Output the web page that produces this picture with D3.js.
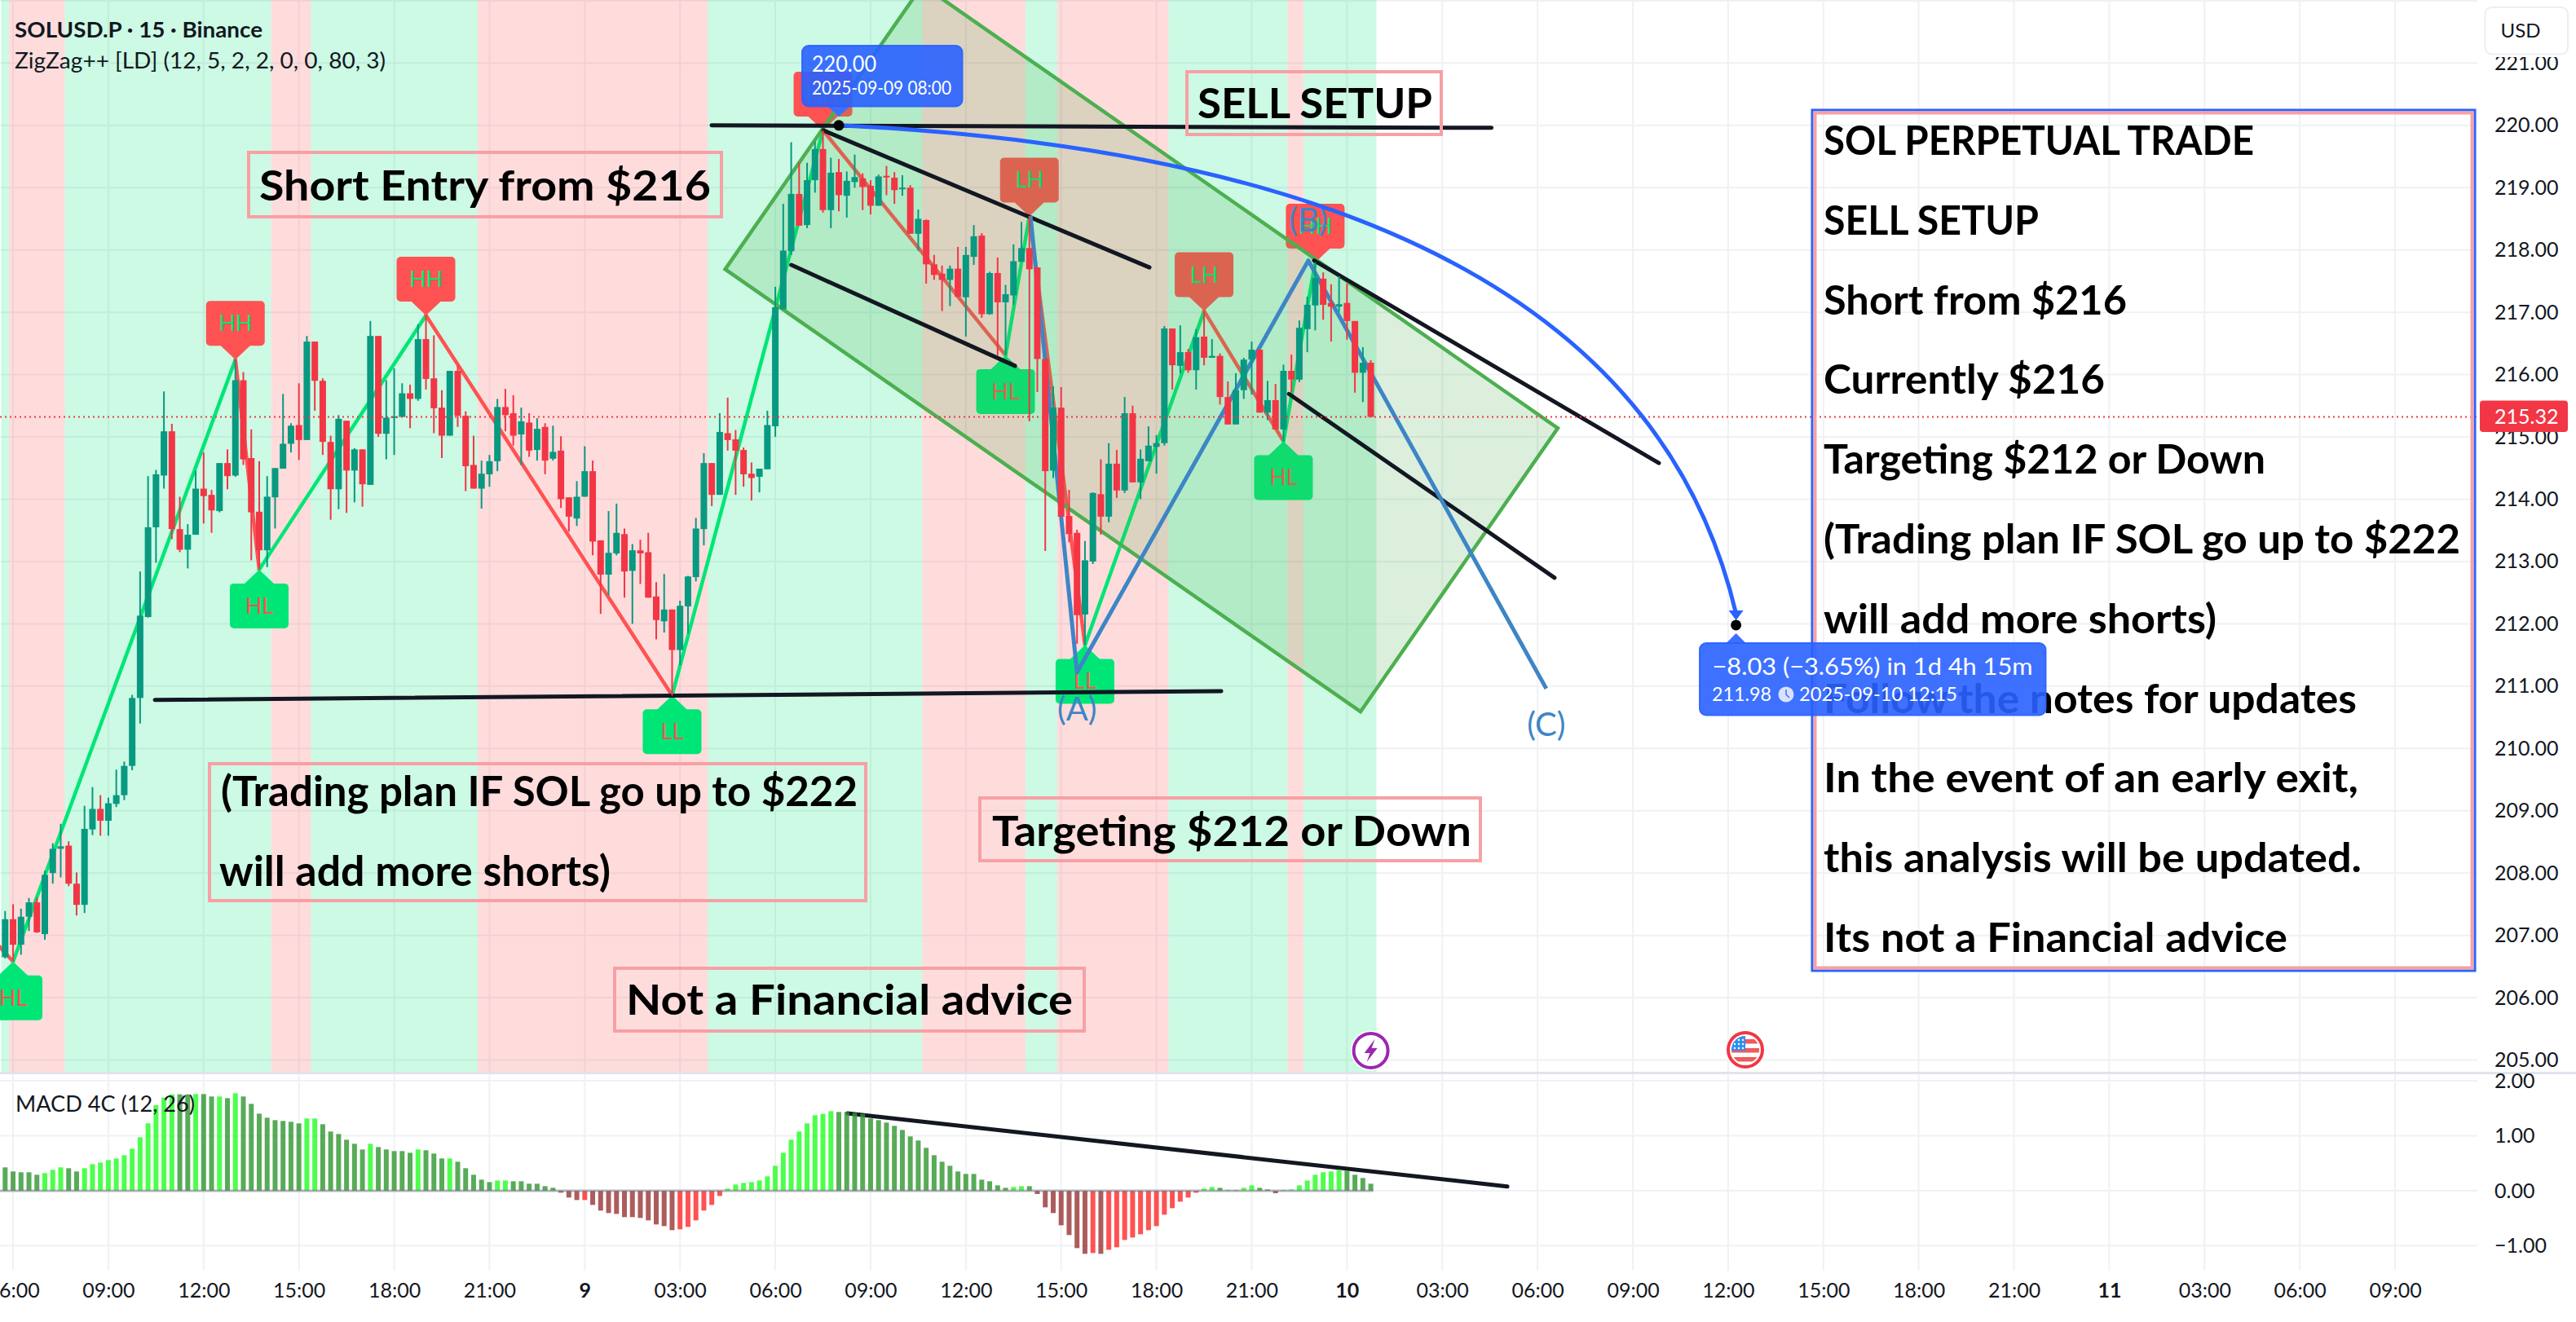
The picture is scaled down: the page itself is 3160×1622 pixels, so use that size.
<!DOCTYPE html>
<html lang="en">
<head>
<meta charset="utf-8">
<title>SOLUSD.P 15m</title>
<script src="https://cdn.jsdelivr.net/npm/d3@7"></script>
<style>
  html, body { margin: 0; padding: 0; background: #fff; }
  svg { display: block; }
  text { font-family: "Lato", "Open Sans", sans-serif; }
</style>
</head>
<body>
<div id="chart"></div>
<script>
// 15-minute SOLUSD.P bars; bar 0 is 05:45 on 8 Sep 2025.
const barOpen = [206.65,207.26,206.85,207.30,207.53,207.02,208.00,208.39,208.44,207.83,207.49,208.70,209.03,208.84,209.11,209.25,209.72,210.81,212.11,213.55,214.38,215.09,213.52,213.19,213.43,214.17,214.07,213.81,214.58,214.38,215.91,214.66,213.80,213.18,214.03,214.49,214.89,215.19,214.95,216.53,215.90,214.92,214.16,215.26,214.46,214.80,214.23,216.62,215.05,215.31,215.32,215.70,215.61,216.57,215.94,215.47,215.02,216.06,215.34,214.55,214.17,214.40,214.61,215.48,215.38,215.04,215.23,214.79,215.16,214.65,214.78,214.03,213.69,214.04,214.45,213.34,212.79,213.13,213.44,212.85,213.18,213.15,212.44,212.04,212.23,211.58,212.28,212.75,213.52,214.58,214.07,215.06,214.96,214.79,214.41,214.36,214.48,215.17,217.05,217.98,218.90,218.40,219.12,219.62,218.64,219.25,218.87,219.09,219.15,219.03,218.71,219.19,219.16,218.98,219.00,218.26,218.48,217.77,217.62,217.52,217.70,217.24,217.89,218.23,216.97,217.63,217.16,217.27,217.81,218.03,217.72,216.25,214.46,215.47,213.73,213.46,212.15,213.00,214.08,213.72,214.57,214.14,215.38,214.27,214.61,214.84,214.90,216.74,216.14,216.36,216.07,216.61,216.27,216.30,215.64,215.20,215.75,216.24,216.40,215.39,215.59,215.12,216.06,215.92,216.73,217.11,217.54,217.15,217.09,217.15,216.86,216.03,216.19];
const barClose = [207.26,206.85,207.30,207.53,207.05,207.97,208.39,208.43,207.83,207.49,208.71,209.03,208.84,209.12,209.25,209.72,210.81,212.13,213.55,214.40,215.09,213.52,213.19,213.43,214.17,214.05,213.82,214.58,214.37,215.91,214.64,213.79,213.18,214.04,214.50,214.89,215.18,214.95,216.53,215.90,214.92,214.16,215.29,214.46,214.80,214.24,216.62,215.05,215.31,215.33,215.70,215.61,216.57,215.93,215.46,215.02,216.06,215.34,214.53,214.17,214.41,214.61,215.48,215.35,215.02,215.25,214.78,215.13,214.62,214.76,214.00,213.72,214.04,214.45,213.32,212.79,213.14,213.46,212.84,213.18,213.13,212.42,212.06,212.23,211.58,212.29,212.76,213.53,214.58,214.07,215.08,214.95,214.78,214.40,214.34,214.49,215.19,217.08,217.99,218.90,218.39,219.12,219.62,218.64,219.24,218.88,219.11,219.17,219.01,218.71,219.18,219.17,218.96,219.00,218.26,218.50,217.77,217.60,217.52,217.70,217.25,217.92,218.22,216.97,217.63,217.16,217.29,217.82,218.03,217.69,216.25,214.45,215.47,213.72,213.44,212.14,213.02,214.10,213.72,214.57,214.14,215.38,214.27,214.65,214.86,214.90,216.74,216.15,216.36,216.07,216.60,216.27,216.30,215.64,215.20,215.75,216.24,216.40,215.39,215.59,215.12,216.06,215.92,216.75,217.12,217.55,217.12,217.09,217.13,216.86,216.03,216.19,215.32];
const barHigh = [207.39,207.50,207.43,207.60,207.60,208.04,208.48,208.79,208.51,208.01,209.08,209.38,209.25,209.21,209.66,209.79,210.86,212.84,214.37,214.47,215.73,215.21,214.04,213.60,214.46,214.75,214.15,214.58,214.80,216.24,216.04,215.12,214.61,214.37,214.50,215.69,215.22,215.86,216.62,216.53,215.94,215.02,215.35,215.26,214.82,214.80,216.86,216.62,215.91,216.10,215.86,215.84,216.81,216.95,216.63,215.75,216.06,216.14,215.41,215.02,214.62,214.71,215.61,215.77,215.67,215.47,215.38,215.30,215.22,215.18,215.01,214.03,214.29,214.85,214.62,213.34,213.81,213.93,213.53,213.28,213.35,213.46,212.67,212.80,212.23,212.37,212.77,213.70,214.74,214.58,215.38,215.63,215.11,214.83,214.59,214.49,215.42,217.41,218.74,219.73,219.40,219.40,219.74,219.92,219.48,219.46,219.26,219.53,219.23,219.12,219.21,219.35,219.25,219.20,219.04,218.65,218.49,217.92,217.75,217.75,218.05,218.05,218.40,218.27,217.65,217.88,217.44,218.09,218.45,218.54,217.72,216.25,215.81,215.80,214.15,213.51,213.33,214.11,214.64,214.90,214.79,215.64,215.50,214.80,215.17,215.03,216.78,216.74,216.79,216.41,216.73,217.02,216.57,216.34,215.89,216.02,216.27,216.53,216.40,215.90,215.85,216.16,216.32,216.87,217.25,217.80,217.64,217.45,217.58,217.46,216.86,216.44,216.23];
const barLow = [206.63,206.58,206.69,207.07,207.04,206.93,207.83,207.93,207.79,207.32,207.36,208.61,208.60,208.60,209.06,209.17,209.65,210.40,212.10,212.98,214.17,213.36,213.15,212.89,213.43,213.61,213.46,213.79,214.16,214.36,214.55,213.02,212.87,212.91,213.53,214.49,214.75,214.63,214.95,215.42,214.71,213.67,213.84,213.78,213.95,213.88,214.23,215.00,214.64,214.71,215.32,215.14,215.58,215.76,215.06,214.66,215.02,215.16,214.13,214.17,213.85,214.20,214.45,215.09,214.86,214.55,214.68,214.62,214.40,214.62,213.86,213.48,213.57,214.04,213.10,212.16,212.46,213.10,212.42,212.00,212.64,212.42,211.75,211.86,210.85,211.34,211.85,212.68,213.26,213.89,214.07,214.78,214.07,214.20,213.98,214.11,214.48,215.00,217.05,217.92,218.39,218.35,218.92,218.60,218.35,218.62,218.52,219.00,218.64,218.57,218.71,218.88,218.74,218.87,218.26,217.99,217.46,217.52,217.02,217.10,217.25,216.61,217.76,216.91,216.96,216.31,216.31,217.12,217.81,215.25,215.72,213.17,214.34,213.72,213.31,211.68,211.66,212.96,213.43,213.63,214.02,214.10,214.27,214.00,214.61,214.41,214.86,215.76,216.02,216.03,215.76,216.15,216.27,215.52,215.20,215.20,215.61,215.68,215.39,215.27,215.12,214.93,215.72,215.88,216.36,216.71,216.88,216.53,217.01,216.56,215.71,215.56,215.32];

// MACD histogram and whether each bar is drawn in its bright shade.
const macdValues = [.425,.351,.336,.336,.291,.321,.380,.425,.410,.351,.410,.484,.514,.558,.588,.647,.765,.973,1.225,1.556,1.694,1.753,1.753,1.753,1.758,1.758,1.714,1.714,1.684,1.773,1.714,1.580,1.402,1.328,1.284,1.269,1.254,1.225,1.314,1.314,1.210,1.077,1.032,.928,.854,.751,.854,.795,.751,.721,.721,.691,.751,.736,.677,.588,.588,.528,.410,.291,.202,.158,.188,.188,.173,.173,.128,.128,.084,.054,-.035,-.123,-.168,-.168,-.257,-.360,-.405,-.420,-.479,-.479,-.494,-.538,-.612,-.642,-.716,-.701,-.657,-.538,-.360,-.257,-.094,.040,.114,.143,.158,.188,.262,.454,.691,.928,1.077,1.225,1.373,1.398,1.447,1.432,1.432,1.417,1.398,1.314,1.284,1.240,1.180,1.106,.988,.914,.780,.647,.528,.454,.351,.306,.306,.202,.173,.099,.054,.069,.084,.084,-.059,-.301,-.405,-.627,-.805,-1.042,-1.146,-1.131,-1.146,-1.072,-1.027,-.894,-.849,-.790,-.716,-.642,-.435,-.316,-.198,-.123,-.035,.040,.069,.054,.010,.010,.054,.099,.054,.025,-.044,.010,.025,.099,.188,.291,.336,.351,.380,.365,.291,.232,.128];
const macdBright = [0,0,0,0,0,1,1,1,0,0, 1,1,1,1,1,1,1,1,1,1, 1,1,0,0,1,0,0,1,0,1, 0,0,0,0,0,0,0,0,1,1, 0,0,0,0,0,0,1,0,0,0, 0,0,1,0,0,0,1,0,0,0, 0,0,1,1,0,0,0,0,0,0, 0,0,0,1,0,0,0,0,0,0, 0,0,0,0,0,1,1,1,1,1, 1,1,1,1,1,1,1,1,1,1, 1,1,1,1,1,0,0,0,0,0, 0,0,0,0,0,0,0,0,0,0, 0,0,0,0,0,0,0,1,1,0, 0,0,0,0,0,0,0,1,0,1, 1,1,1,1,1,1,1,1,1,1, 1,1,1,0,0,0,1,1,0,0, 0,0,1,1,1,1,1,1,1,0, 0,0,0];

// Trend background: first bar, one past last bar, direction.
const bandStart = [0,1,8,34,39,60,89,116,129,133,147,162,164];
const bandEnd   = [1,8,34,39,60,89,116,129,133,147,162,164,173.2];
const bandDir   = ["up","dn","up","dn","up","dn","up","dn","up","dn","up","dn","up"];

// ZigZag pivots.
const zigBars   = [-2,1,29,32,53,84,103,126,129,136,151,161,165];
const zigPrices = [207.00,206.58,216.24,212.87,216.95,210.85,219.92,216.31,218.54,211.66,217.02,214.93,217.80];
const zigTags   = ["","HL","HH","HL","HH","LL","HH","HL","LH","LL","LH","HL","HH"];

// Hand-drawn analysis, anchored in bar and price.
const channelBars   = [90.69,115.53,195.55,170.7];
const channelPrices = [217.69,222.25,215.14,210.59];
const trendFromBar   = [88.98,18.86,103.05,99.01,164.86,161.68];
const trendFromPrice = [220.00,210.78,219.92,217.76,217.83,215.69];
const trendToBar     = [187.2,153.16,144.12,127.18,208.28,195.14];
const trendToPrice   = [219.96,210.92,217.72,216.14,214.58,212.74];
const waveBars   = [129.13,135.0,164.13,194.1];
const wavePrices = [218.55,211.22,217.83,210.96];
const waveNames  = ["","(A)","(B)","(C)"];
const waveLabelPrices = [0,210.45,218.30,210.20];
const macdTrendBars   = [106.1,189.2];
const macdTrendValues = [1.407,.079];

const lastPrice = 215.32;
const fromBar = 105, fromPrice = 220.00, toBar = 218, toPrice = 211.98;
const curveBar = 204.7, curvePrice = 219.4;

const priceTicks = d3.range(205, 222);
const macdTicks = [2, 1, 0, -1];
const timeLabels = ["06:00","09:00","12:00","15:00","18:00","21:00","9","03:00","06:00","09:00","12:00","15:00","18:00","21:00","10","03:00","06:00","09:00","12:00","15:00","18:00","21:00","11","03:00","06:00","09:00"];
const timeTicks = timeLabels.map((_, k) => 1 + 12 * k);

const noteTitle = "SOLUSD.P · 15 · Binance";
const noteStudy = "ZigZag++ [LD] (12, 5, 2, 2, 0, 0, 80, 3)";
const noteMacd = "MACD 4C (12, 26)";

const panelLines = ["SOL PERPETUAL TRADE","SELL SETUP","Short from $216","Currently $216","Targeting $212 or Down","(Trading plan IF SOL go up to $222","will add more shorts)","Follow the notes for updates","In the event of an early exit,","this analysis will be updated.","Its not a Financial advice"];
const panelWidths = [528,264,372,345,542,781,482,654,656,660,569];

// Boxed notes on the chart: left, top, right, bottom, then one row per text line.
const noteBoxes = [
  {box:[305,187,885,266], rows:[["Short Entry from $216",318,246,554]]},
  {box:[1456,88,1768,165], rows:[["SELL SETUP",1469,145,288]]},
  {box:[257,937,1062,1105], rows:[["(Trading plan IF SOL go up to $222",271,989,781],["will add more shorts)",269,1087,480]]},
  {box:[754,1188,1330,1265], rows:[["Not a Financial advice",768,1245,548]]},
  {box:[1202,979,1816,1056], rows:[["Targeting $212 or Down",1217,1038,588]]}
];

const W = 3160, H = 1622, plotRight = 3039, paneBottom = 1316, macdBottom = 1559;

const x = d3.scaleLinear().domain([0, 1]).range([6.3, 16.04]);
const y = d3.scaleLinear().domain([220, 205]).range([153.8, 1300.55]);
const ym = d3.scaleLinear().domain([2, -1]).range([1326, 1528.5]);
const halfBar = (x(1) - x(0)) / 2;

const svg = d3.select("#chart").append("svg").attr("width", W).attr("height", H).attr("viewBox", `0 0 ${W} ${H}`);
const defs = svg.append("defs");
defs.append("clipPath").attr("id", "pane").append("rect").attr("width", plotRight).attr("height", paneBottom);
defs.append("clipPath").attr("id", "macdPane").append("rect").attr("y", paneBottom + 2).attr("width", plotRight).attr("height", macdBottom - paneBottom - 2);

const INK = "#131722", UP = "#089981", DOWN = "#f23645", GRID = "#f0f1f4";
const ZIG_UP = "#00e676", ZIG_DN = "#ff5252", NOTE_EDGE = "#f7a0a5", WAVE = "#3d85c6", CALLOUT = "#3d6fff", BLUE = "#2962ff";

const pane = svg.append("g").attr("clip-path", "url(#pane)");

// Grid first so the translucent trend bands tint it.
pane.append("g").selectAll("line").data(d3.range(205, 223)).join("line")
  .attr("x1", 0).attr("x2", plotRight).attr("y1", d => y(d)).attr("y2", d => y(d))
  .attr("stroke", GRID).attr("stroke-width", 2);
pane.append("g").selectAll("line").data(timeTicks).join("line")
  .attr("x1", d => x(d)).attr("x2", d => x(d)).attr("y1", 0).attr("y2", paneBottom)
  .attr("stroke", GRID).attr("stroke-width", 2);

pane.append("g").selectAll("rect").data(bandStart).join("rect")
  .attr("x", d => x(d) - halfBar)
  .attr("width", (d, i) => x(bandEnd[i]) - x(d))
  .attr("y", 0).attr("height", paneBottom)
  .attr("fill", (d, i) => bandDir[i] === "up" ? "rgba(0,230,118,.2)" : "rgba(255,82,82,.2)");

// ZigZag legs and their pivot tags.
pane.append("g").selectAll("line").data(zigBars.slice(1)).join("line")
  .attr("x1", (d, i) => x(zigBars[i])).attr("y1", (d, i) => y(zigPrices[i]))
  .attr("x2", d => x(d)).attr("y2", (d, i) => y(zigPrices[i + 1]))
  .attr("stroke", (d, i) => zigPrices[i + 1] > zigPrices[i] ? ZIG_UP : ZIG_DN)
  .attr("stroke-width", 4.5).attr("stroke-linecap", "round");

const tags = pane.append("g").selectAll("g").data(zigTags.map((t, i) => i).filter(i => zigTags[i])).join("g")
  .attr("transform", i => `translate(${x(zigBars[i])},${y(zigPrices[i])})`);
const isHigh = i => zigTags[i][1] === "H";
tags.append("rect")
  .attr("x", -36).attr("width", 72).attr("height", 55).attr("rx", 5)
  .attr("y", i => isHigh(i) ? -72 : 17)
  .attr("fill", i => isHigh(i) ? ZIG_DN : ZIG_UP);
tags.append("path")
  .attr("d", i => isHigh(i) ? "M-19,-18L0,0L19,-18Z" : "M-19,18L0,0L19,18Z")
  .attr("fill", i => isHigh(i) ? ZIG_DN : ZIG_UP);
tags.append("text")
  .attr("text-anchor", "middle").attr("font-size", 27)
  .attr("y", i => isHigh(i) ? -35 : 54)
  .attr("fill", i => isHigh(i) ? ZIG_UP : ZIG_DN)
  .text(i => zigTags[i]);

// Translucent parallel channel.
const corner = channelBars.map((b, i) => [x(b), y(channelPrices[i])]);
pane.append("path")
  .attr("d", d3.line()(corner) + "Z")
  .attr("fill", "rgba(76,175,80,.2)").attr("stroke", "#4caf50").attr("stroke-width", 4.5);

// Trend lines.
pane.append("g").selectAll("line").data(trendFromBar).join("line")
  .attr("x1", d => x(d)).attr("y1", (d, i) => y(trendFromPrice[i]))
  .attr("x2", (d, i) => x(trendToBar[i])).attr("y2", (d, i) => y(trendToPrice[i]))
  .attr("stroke", INK).attr("stroke-width", 5).attr("stroke-linecap", "round");

// Corrective wave path with its labels.
pane.append("path")
  .attr("d", d3.line()(waveBars.map((b, i) => [x(b), y(wavePrices[i])])))
  .attr("fill", "none").attr("stroke", WAVE).attr("stroke-width", 5).attr("stroke-linejoin", "round");

// Candles sit above the drawings.
const candles = pane.append("g").selectAll("g").data(barOpen).join("g");
const candleColor = i => barClose[i] >= barOpen[i] ? UP : DOWN;
candles.append("line")
  .attr("x1", (d, i) => x(i)).attr("x2", (d, i) => x(i))
  .attr("y1", (d, i) => y(barHigh[i])).attr("y2", (d, i) => y(barLow[i]))
  .attr("stroke", (d, i) => candleColor(i)).attr("stroke-width", 2);
candles.append("rect")
  .attr("x", (d, i) => x(i) - 4).attr("width", 8)
  .attr("y", (d, i) => y(Math.max(barOpen[i], barClose[i])))
  .attr("height", (d, i) => Math.max(2, Math.abs(y(barOpen[i]) - y(barClose[i]))))
  .attr("fill", (d, i) => candleColor(i));

waveNames.forEach((name, i) => {
  if (!name) return;
  pane.append("text").attr("x", x(waveBars[i])).attr("y", y(waveLabelPrices[i]))
    .attr("text-anchor", "middle").attr("font-size", 40).attr("fill", WAVE).text(name);
});

// Last price line.
pane.append("line").attr("x1", 0).attr("x2", plotRight).attr("y1", y(lastPrice)).attr("y2", y(lastPrice))
  .attr("stroke", DOWN).attr("stroke-width", 2).attr("stroke-dasharray", "2 4");

// Boxed chart notes.
const note = pane.append("g").selectAll("g").data(noteBoxes).join("g");
note.append("rect")
  .attr("x", d => d.box[0]).attr("y", d => d.box[1])
  .attr("width", d => d.box[2] - d.box[0]).attr("height", d => d.box[3] - d.box[1])
  .attr("fill", "none").attr("stroke", NOTE_EDGE).attr("stroke-width", 4);
note.each(function (d) {
  d3.select(this).selectAll("text").data(d.rows).join("text")
    .attr("x", r => r[1]).attr("y", r => r[2]).attr("font-size", 52).attr("font-weight", 700)
    .attr("textLength", r => r[3]).attr("lengthAdjust", "spacingAndGlyphs").attr("fill", "#000").text(r => r[0]);
});

// Side panel with the trade plan.
pane.append("rect").attr("x", 2223).attr("y", 135).attr("width", 813).attr("height", 1056)
  .attr("fill", "none").attr("stroke", BLUE).attr("stroke-width", 3);
pane.append("rect").attr("x", 2226.5).attr("y", 138.5).attr("width", 806).attr("height", 1049)
  .attr("fill", "none").attr("stroke", NOTE_EDGE).attr("stroke-width", 4);
pane.append("g").selectAll("text").data(panelLines).join("text")
  .attr("x", 2237).attr("y", (d, i) => 190 + i * 97.8)
  .attr("font-size", 49).attr("font-weight", 700).attr("fill", "#000")
  .attr("textLength", (d, i) => panelWidths[i]).attr("lengthAdjust", "spacingAndGlyphs")
  .text(d => d);

// Projection curve between the two anchors.
const P0 = [x(fromBar), y(fromPrice)], P1 = [x(toBar), y(toPrice)], PC = [x(curveBar), y(curvePrice)];
const curve = d3.path();
curve.moveTo(P0[0], P0[1]);
curve.quadraticCurveTo(PC[0], PC[1], P1[0], P1[1] - 14);
pane.append("path").attr("d", curve.toString()).attr("fill", "none").attr("stroke", BLUE).attr("stroke-width", 5);
pane.append("path").attr("d", `M${P1[0] - 9},${P1[1] - 18}L${P1[0] + 9},${P1[1] - 18}L${P1[0]},${P1[1] - 6}Z`).attr("fill", BLUE);
[P0, P1].forEach(p => pane.append("circle").attr("cx", p[0]).attr("cy", p[1]).attr("r", 6.5).attr("fill", "#000"));

// Anchor callouts.
function callout(left, top, right, bottom, tipX, tipY) {
  const g = pane.append("g");
  g.append("path").attr("d", tipY > bottom
    ? `M${tipX - 15},${bottom - 1}L${tipX},${tipY}L${tipX + 15},${bottom - 1}Z`
    : `M${tipX - 13},${top + 1}L${tipX},${tipY}L${tipX + 13},${top + 1}Z`).attr("fill", CALLOUT);
  g.append("rect").attr("x", left).attr("y", top).attr("width", right - left).attr("height", bottom - top)
    .attr("rx", 8).attr("fill", "rgba(41,98,255,.9)").attr("stroke", "rgba(41,98,255,.9)").attr("stroke-width", 2);
  return g;
}
function calloutText(g, tx, ty, size, width, content) {
  g.append("text").attr("x", tx).attr("y", ty).attr("font-size", size).attr("fill", "#fff")
    .attr("textLength", width).attr("lengthAdjust", "spacingAndGlyphs").text(content);
}
const c1 = callout(984, 56, 1180.5, 130.5, P0[0], 143);
calloutText(c1, 996, 87.5, 26, 79, fromPrice.toFixed(2));
calloutText(c1, 996, 116, 23, 171, "2025-09-09 08:00");
const c2 = callout(2085, 789, 2509.5, 877.5, P1[0], 777);
calloutText(c2, 2100.5, 828.3, 28, 393, "−8.03 (−3.65%) in 1d 4h 15m");
calloutText(c2, 2100, 859.7, 23, 73, toPrice.toFixed(2));
c2.append("circle").attr("cx", 2191).attr("cy", 852).attr("r", 9.5).attr("fill", "rgba(255,255,255,.8)");
c2.append("path").attr("d", "M2191,846V852L2195,856").attr("fill", "none").attr("stroke", CALLOUT).attr("stroke-width", 1.5);
calloutText(c2, 2207, 859.7, 23, 194, "2025-09-10  12:15");

// Economic event markers.
const bolt = pane.append("g").attr("transform", `translate(${x(172)},1289)`);
bolt.append("circle").attr("r", 24.5).attr("fill", "#fff");
bolt.append("circle").attr("r", 21).attr("fill", "#fff").attr("stroke", "#9c27b0").attr("stroke-width", 4);
bolt.append("path").attr("d", "M5,-14L-8,3L-1,3L-5,14L8,-3L1,-3Z").attr("fill", "#9c27b0");

const flagClip = defs.append("clipPath").attr("id", "flagDisc");
flagClip.append("circle").attr("r", 17);
const flag = pane.append("g").attr("transform", "translate(2141,1288)");
flag.append("circle").attr("r", 24.5).attr("fill", "#fff");
flag.append("circle").attr("r", 21).attr("fill", "#fff").attr("stroke", DOWN).attr("stroke-width", 4);
const flagBody = flag.append("g").attr("clip-path", "url(#flagDisc)");
flagBody.append("rect").attr("x", -17).attr("y", -17).attr("width", 34).attr("height", 34).attr("fill", "#fff");
d3.range(3).forEach(k => flagBody.append("rect").attr("x", -17).attr("y", -13 + k * 11).attr("width", 34).attr("height", 5.5).attr("fill", "#f05a5a"));
flagBody.append("rect").attr("x", -17).attr("y", -17).attr("width", 17).attr("height", 18).attr("fill", "#2f8fef");
d3.range(3).forEach(r => d3.range(3).forEach(c => flagBody.append("circle").attr("cx", -13 + c * 5).attr("cy", -12 + r * 5).attr("r", 1.2).attr("fill", "#fff")));

// Pane divider.
svg.append("rect").attr("x", 0).attr("y", paneBottom - 1).attr("width", W).attr("height", 3).attr("fill", "#e0e3eb");

// MACD pane.
const macdPane = svg.append("g").attr("clip-path", "url(#macdPane)");
macdPane.append("g").selectAll("line").data(macdTicks).join("line")
  .attr("x1", 0).attr("x2", plotRight).attr("y1", d => ym(d)).attr("y2", d => ym(d))
  .attr("stroke", GRID).attr("stroke-width", 2);
macdPane.append("g").selectAll("line").data(timeTicks).join("line")
  .attr("x1", d => x(d)).attr("x2", d => x(d)).attr("y1", paneBottom).attr("y2", macdBottom)
  .attr("stroke", GRID).attr("stroke-width", 2);
macdPane.append("line")
  .attr("x1", x(macdTrendBars[0])).attr("y1", ym(macdTrendValues[0]))
  .attr("x2", x(macdTrendBars[1])).attr("y2", ym(macdTrendValues[1]))
  .attr("stroke", INK).attr("stroke-width", 5).attr("stroke-linecap", "round");
const macdShade = (v, bright) => v >= 0 ? (bright ? "#20ff20" : "#2e962e") : (bright ? "#ff2727" : "#983333");
macdPane.append("g").selectAll("rect").data(macdValues).join("rect")
  .attr("x", (d, i) => x(i) - 3).attr("width", 6)
  .attr("y", d => ym(Math.max(0, d))).attr("height", d => Math.abs(ym(d) - ym(0)))
  .attr("fill", (d, i) => macdShade(d, macdBright[i])).attr("fill-opacity", .8);
macdPane.append("line").attr("x1", 0).attr("x2", x(172) + 3).attr("y1", ym(0)).attr("y2", ym(0))
  .attr("stroke", "#787b86").attr("stroke-opacity", .55).attr("stroke-width", 3);

// Pane legends.
svg.append("text").attr("x", 18).attr("y", 45.5).attr("font-size", 26).attr("font-weight", 700).attr("fill", INK)
  .attr("textLength", 304).attr("lengthAdjust", "spacingAndGlyphs").text(noteTitle);
svg.append("text").attr("x", 18).attr("y", 84).attr("font-size", 26).attr("fill", INK)
  .attr("textLength", 455).attr("lengthAdjust", "spacingAndGlyphs").text(noteStudy);
svg.append("text").attr("x", 19).attr("y", 1364).attr("font-size", 26).attr("fill", INK)
  .attr("textLength", 220).attr("lengthAdjust", "spacingAndGlyphs").text(noteMacd);

// Axes.
function styleAxis(g) {
  g.select(".domain").remove();
  g.selectAll("line").remove();
  g.selectAll("text").attr("fill", INK).attr("font-size", 25).attr("font-family", '"Lato", sans-serif');
}
svg.append("g").attr("transform", "translate(3060,0)")
  .call(d3.axisRight(y).tickValues(priceTicks).tickFormat(d3.format(".2f")).tickSize(0).tickPadding(0))
  .call(styleAxis);
svg.append("g").attr("transform", "translate(3060,0)")
  .call(d3.axisRight(ym).tickValues(macdTicks).tickFormat(d => d3.format(".2f")(d).replace("-", "−")).tickSize(0).tickPadding(0))
  .call(styleAxis);
svg.append("g").attr("transform", "translate(0,1574)")
  .call(d3.axisBottom(x).tickValues(timeTicks).tickFormat((d, i) => timeLabels[i]).tickSize(0).tickPadding(0))
  .call(styleAxis)
  .selectAll("text").attr("font-weight", (d, i) => timeLabels[i].length < 3 ? 700 : 400);

// Currency button over the top tick.
svg.append("rect").attr("x", 3044).attr("y", 0).attr("width", 116).attr("height", 70).attr("fill", "#fff");
svg.append("rect").attr("x", 3048.5).attr("y", 9).attr("width", 101.5).attr("height", 57.5).attr("rx", 8)
  .attr("fill", "#fff").attr("stroke", "#eceef2").attr("stroke-width", 2);
svg.append("text").attr("x", 3092).attr("y", 46).attr("text-anchor", "middle").attr("font-size", 24).attr("fill", INK).text("USD");

// Last price tag.
svg.append("rect").attr("x", 3042).attr("y", y(lastPrice) - 20).attr("width", 108).attr("height", 38.5).attr("rx", 4).attr("fill", DOWN);
svg.append("text").attr("x", 3060).attr("y", y(lastPrice) + 8.5).attr("font-size", 25).attr("fill", "#fff").text(lastPrice.toFixed(2));
</script>
</body>
</html>
